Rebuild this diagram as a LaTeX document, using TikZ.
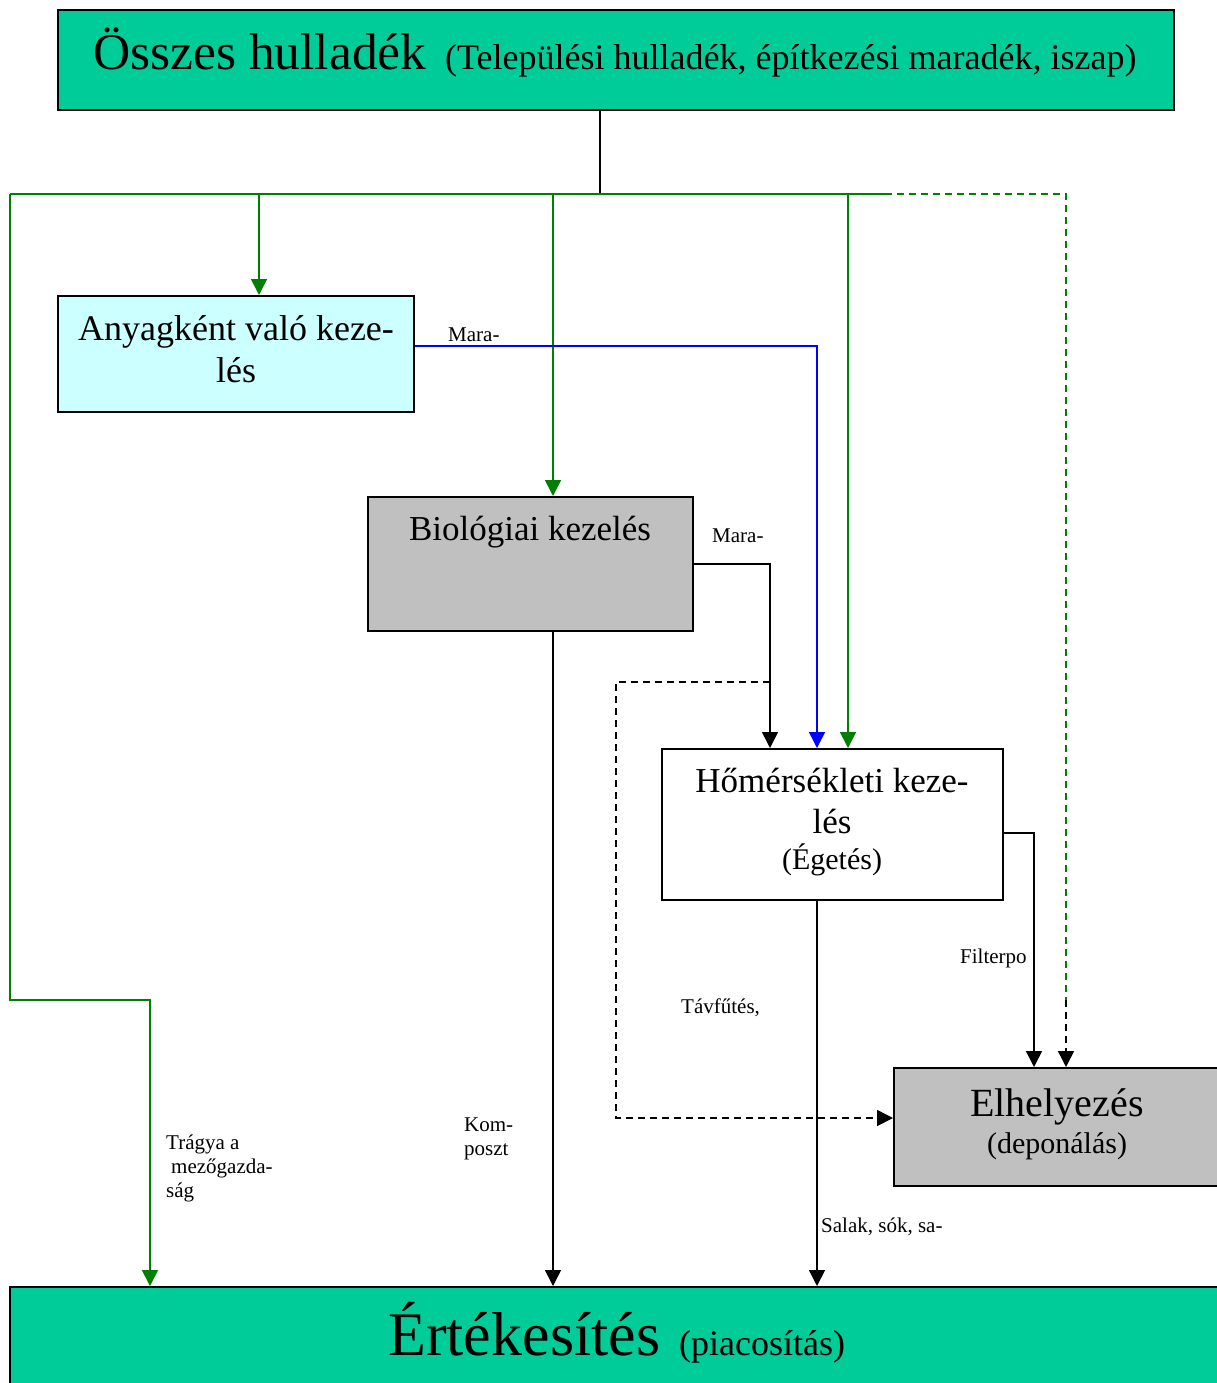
\documentclass[tikz,border=0pt]{standalone}
\usepackage{fontspec}
\setmainfont{Liberation Serif}
\usetikzlibrary{arrows.meta}
\definecolor{teal1}{HTML}{00CC99}
\definecolor{gray1}{HTML}{C0C0C0}
\definecolor{cyan1}{HTML}{CCFFFF}
\definecolor{green1}{HTML}{008000}
\definecolor{blue1}{HTML}{0000FF}
\tikzset{
  box/.style={draw=black, line width=2pt, rectangle, inner sep=0pt},
  txt/.style={inner sep=0pt, anchor=base},
  lbl/.style={inner sep=0pt, anchor=base west, font=\fontsize{21}{24}\selectfont},
  conn/.style={line width=1.6pt},
  tip/.style={-{Triangle[length=16pt,width=16pt]}},
  gconn/.style={conn, draw=green1},
  bconn/.style={conn, draw=blue1},
  kconn/.style={conn, draw=black},
  dashy/.style={dash pattern=on 7pt off 5pt},
}
\begin{document}
\begin{tikzpicture}[x=1pt,y=-1pt]
\useasboundingbox (0,0) rectangle (1217,1383);
\clip (0,0) rectangle (1217,1383);
\fill[white] (0,0) rectangle (1217,1383);

% boxes
\node[box, fill=teal1, minimum width=1116pt, minimum height=100pt] (top) at (616,60) {};
\node[box, fill=cyan1, minimum width=356pt, minimum height=116pt] (anyag) at (236,354) {};
\node[box, fill=gray1, minimum width=325pt, minimum height=134pt] (bio) at (530.5,564) {};
\node[box, fill=white, minimum width=341pt, minimum height=151pt] (ho) at (832.5,824.5) {};
\node[box, fill=gray1, minimum width=346pt, minimum height=118pt] (elh) at (1067,1127) {};
\node[box, fill=teal1, minimum width=1230pt, minimum height=113pt] (ert) at (625,1343.5) {};

% box texts
\node[txt, anchor=base west, font=\fontsize{51.5}{56}\selectfont] (t1) at (93,70) {Összes hulladék};
\node[txt, anchor=base west, font=\fontsize{36}{42}\selectfont] (t2) at (445,70) {(Települési hulladék, építkezési maradék, iszap)};
\node[txt, font=\fontsize{36}{42}\selectfont] (a1) at (236,340) {Anyagként való keze-};
\node[txt, font=\fontsize{36}{42}\selectfont] (a2) at (236,382) {lés};
\node[txt, font=\fontsize{35}{42}\selectfont] (b1t) at (530,540) {Biológiai kezelés};
\node[txt, font=\fontsize{35}{42}\selectfont] (h1) at (832,792) {Hőmérsékleti keze-};
\node[txt, font=\fontsize{35}{42}\selectfont] (h2) at (832,833) {lés};
\node[txt, font=\fontsize{30}{36}\selectfont] (h3) at (832,869) {(Égetés)};
\node[txt, font=\fontsize{40}{46}\selectfont] (e1) at (1057,1116) {Elhelyezés};
\node[txt, font=\fontsize{30}{36}\selectfont] (e2) at (1057,1153) {(deponálás)};
\node[txt, anchor=base west, font=\fontsize{62}{70}\selectfont] (r1) at (388,1355) {Értékesítés};
\node[txt, anchor=base west, font=\fontsize{36}{42}\selectfont] (r2) at (679,1355) {(piacosítás)};

% coordinates
\coordinate (j) at (600,194);
\coordinate (bl) at (10,194);
\coordinate (bus1) at (259,194);
\coordinate (bus2) at (553,194);
\coordinate (bus3) at (848,194);
\coordinate (busend) at (885,194);
\coordinate (dcorner) at (1066,194);
\coordinate (dmid) at (1066,1000);
\coordinate (lcorner) at (10,1000);
\coordinate (tr) at (150,1000);
\coordinate (d0) at (770,682);
\coordinate (d1) at (616,1118);
\coordinate (hs) at (817,900);
\coordinate (bs) at (553,631);

% connectors
\draw[kconn] (top.south -| j) -- (j);
\draw[gconn] (bl) -- (busend);
\draw[gconn, dashy] (busend) -- (dcorner) -- (dmid);
\draw[kconn, dashy, tip] (dmid) -- (elh.north -| dmid);
\draw[gconn, tip] (bl) -- (lcorner) -- (tr) -- (tr |- ert.north);
\draw[gconn, tip] (bus1) -- (bus1 |- anyag.north);
\draw[gconn, tip] (bus2) -- (bus2 |- bio.north);
\draw[gconn, tip] (bus3) -- (bus3 |- ho.north);
\draw[bconn, tip] ([yshift=8pt]anyag.east) -| ([xshift=-15.5pt]ho.north);
\draw[kconn, tip] (bio.east) -| ([xshift=-62.5pt]ho.north);
\draw[kconn, dashy, tip] (d0) -| (d1) -- ([yshift=9pt]elh.west);
\draw[kconn, tip] ([yshift=-8.5pt]ho.east) -| ([xshift=-33pt]elh.north);
\draw[kconn, tip] (hs) -- (hs |- ert.north);
\draw[kconn, tip] (bs) -- (bs |- ert.north);

% labels
\node[lbl] (m1) at (448,341) {Mara-};
\node[lbl] (m2) at (712,542) {Mara-};
\node[lbl] (fp) at (960,963) {Filterpo};
\node[lbl] (tf) at (681,1013) {Távfűtés,};
\node[lbl] (sl) at (821,1232) {Salak, sók, sa-};
\node[lbl] (k1) at (464,1131) {Kom-};
\node[lbl] (k2) at (464,1155) {poszt};
\node[lbl] (g1) at (166,1149) {Trágya a};
\node[lbl] (g2) at (171,1173) {mezőgazda-};
\node[lbl] (g3) at (166,1197) {ság};
\end{tikzpicture}
\end{document}
